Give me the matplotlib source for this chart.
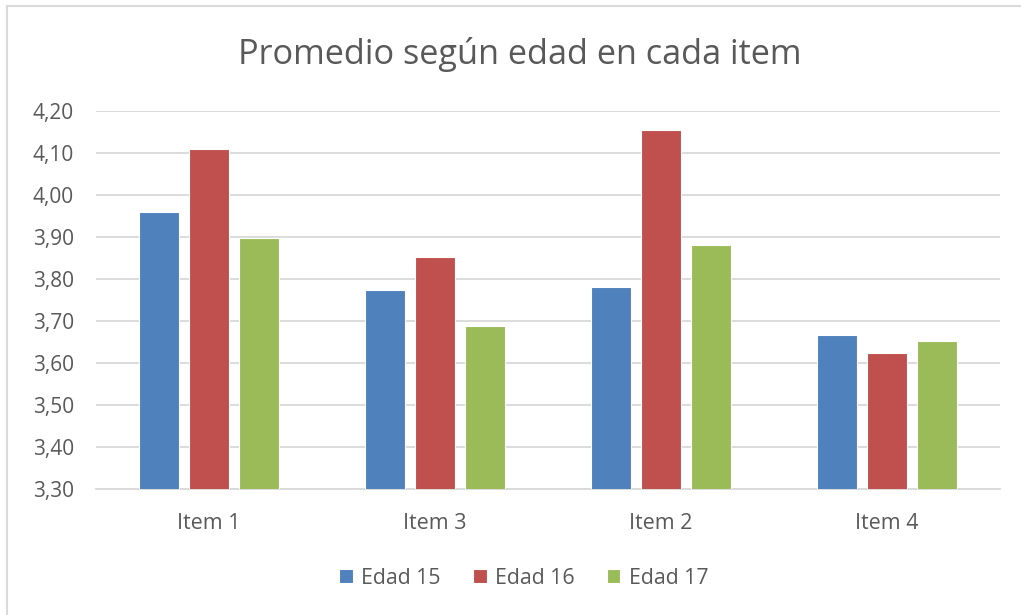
import numpy as np
import matplotlib.pyplot as plt
from matplotlib.lines import Line2D

categories = ["Item 1", "Item 3", "Item 2", "Item 4"]
series_names = ["Edad 15", "Edad 16", "Edad 17"]
edad15 = [3.96, 3.775, 3.78, 3.667]
edad16 = [4.11, 3.853, 4.155, 3.625]
edad17 = [3.898, 3.687, 3.882, 3.652]
colors = ["#4F81BD", "#C0504D", "#9BBB59"]
yticks = [3.30, 3.40, 3.50, 3.60, 3.70, 3.80, 3.90, 4.00, 4.10, 4.20]

plt.rcParams['font.family'] = ['Open Sans', 'DejaVu Sans']
txt = "#595959"

fig = plt.figure(figsize=(10.21, 6.15), dpi=100)
ax = fig.add_axes([96 / 1021, 1 - 489 / 615, 904 / 1021, 378 / 615])

x = np.arange(len(categories))
w = 0.177
step = 0.221
for i, (vals, name) in enumerate(zip([edad15, edad16, edad17], series_names)):
    ax.bar(x + (i - 1) * step, vals, width=w, color=colors[i], label=name,
           edgecolor="white", linewidth=0.8, zorder=3)

ax.set_xlim(-0.5, len(categories) - 0.5)
ax.set_ylim(3.30, 4.20)
ax.set_yticks(yticks)
ax.set_yticklabels([f"{v:.2f}".replace(".", ",") for v in yticks])
ax.set_xticks(x)
ax.set_xticklabels(categories)
ax.grid(axis="y", color="#D9D9D9", linewidth=1.3, zorder=0)
for s in ["top", "right", "left"]:
    ax.spines[s].set_visible(False)
ax.spines["bottom"].set_color("#D9D9D9")
ax.spines["bottom"].set_linewidth(1.3)
ax.tick_params(axis="y", length=0, labelsize=15, colors=txt, pad=16)
ax.tick_params(axis="x", length=0, labelsize=15.5, colors=txt, pad=17)

fig.text(0.509, 1 - 55 / 615, "Promedio según edad en cada item", ha="center",
         va="center", fontsize=24.7, color=txt)

leg = fig.legend(loc="center", bbox_to_anchor=(0.513, 1 - 578 / 615), ncol=3,
                 frameon=False, fontsize=15.3, handlelength=0.65, handleheight=0.65,
                 handletextpad=0.4, columnspacing=1.5)
for t in leg.get_texts():
    t.set_color(txt)

# chart frame (only top and left edges visible in the original crop)
fig.add_artist(Line2D([7 / 1021, 7 / 1021], [0, 1 - 6 / 615], transform=fig.transFigure,
                      color="#D9D9D9", linewidth=1.5))
fig.add_artist(Line2D([7 / 1021, 1], [1 - 6 / 615, 1 - 6 / 615], transform=fig.transFigure,
                      color="#D9D9D9", linewidth=1.5))

fig.savefig("out.png", dpi=100)
